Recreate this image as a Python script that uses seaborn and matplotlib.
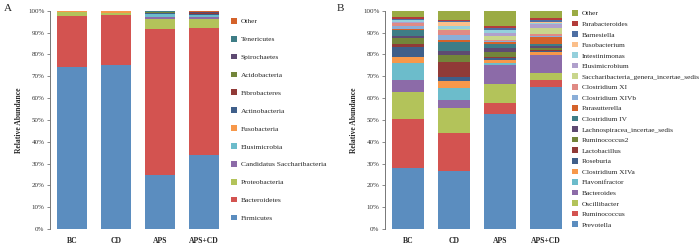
import numpy as np
import matplotlib
matplotlib.use("Agg")
import matplotlib.pyplot as plt
import seaborn as sns

groups = ["BC", "CD", "APS", "APS+CD"]

# Panel A: phylum level (%), bottom to top
phyla = ["Firmicutes", "Bacteroidetes", "Proteobacteria", "Candidatus Saccharibacteria",
         "Elusimicrobia", "Fusobacteria", "Actinobacteria", "Fibrobacteres",
         "Acidobacteria", "Spirochaetes", "Tenericutes", "Other"]
phyla_vals = {
    "Firmicutes":                 [74.1, 75.0, 24.8, 34.0],
    "Bacteroidetes":              [23.5, 23.0, 66.8, 58.0],
    "Proteobacteria":             [1.7, 0.8, 4.7, 4.4],
    "Candidatus Saccharibacteria": [0.1, 0.1, 0.6, 0.7],
    "Elusimicrobia":              [0.1, 0.1, 1.6, 0.8],
    "Fusobacteria":               [0.3, 0.7, 0.1, 0.2],
    "Actinobacteria":             [0.1, 0.1, 0.3, 0.6],
    "Fibrobacteres":              [0.05, 0.05, 0.1, 0.1],
    "Acidobacteria":              [0.05, 0.05, 0.5, 0.2],
    "Spirochaetes":               [0.05, 0.05, 0.1, 0.3],
    "Tenericutes":                [0.1, 0.05, 0.3, 0.2],
    "Other":                      [0.05, 0.0, 0.1, 0.5],
}
phyla_colors = ["#5b8dbf", "#d35350", "#b3c35a", "#8c6ba8", "#6cbccb", "#f7984a",
                "#3f5f8a", "#913a37", "#73853a", "#5e4a72", "#3e7d86", "#d4622a"]

# Panel B: genus level (%), bottom to top
genera = ["Prevotella", "Ruminococcus", "Oscillibacter", "Bacteroides", "Flavonifractor",
          "Clostridium XIVa", "Roseburia", "Lactobacillus", "Ruminococcus2",
          "Lachnospiracea_incertae_sedis", "Clostridium IV", "Parasutterella",
          "Clostridium XIVb", "Clostridium XI", "Saccharibacteria_genera_incertae_sedis",
          "Elusimicrobium", "Intestinimonas", "Fusobacterium", "Barnesiella",
          "Parabacteroides", "Other"]
genera_vals = {
    "Prevotella":                             [27.8, 26.7, 52.5, 64.9],
    "Ruminococcus":                           [22.6, 17.1, 5.4, 3.4],
    "Oscillibacter":                          [12.2, 11.8, 8.5, 3.0],
    "Bacteroides":                            [5.7, 3.5, 8.7, 8.4],
    "Flavonifractor":                         [7.6, 5.6, 0.8, 0.2],
    "Clostridium XIVa":                       [3.0, 3.1, 1.5, 1.3],
    "Roseburia":                              [4.6, 2.0, 0.8, 0.4],
    "Lactobacillus":                          [1.1, 6.8, 0.6, 0.4],
    "Ruminococcus2":                          [2.8, 3.1, 2.4, 1.1],
    "Lachnospiracea_incertae_sedis":          [1.1, 1.8, 1.9, 0.6],
    "Clostridium IV":                         [2.5, 4.0, 1.5, 0.9],
    "Parasutterella":                         [0.6, 1.1, 0.9, 3.5],
    "Clostridium XIVb":                       [1.5, 2.3, 0.4, 0.3],
    "Clostridium XI":                         [1.1, 2.3, 0.8, 1.1],
    "Saccharibacteria_genera_incertae_sedis": [0.3, 0.2, 1.8, 2.4],
    "Elusimicrobium":                         [0.5, 0.2, 1.3, 1.9],
    "Intestinimonas":                         [0.6, 1.5, 1.2, 0.6],
    "Fusobacterium":                          [0.2, 1.9, 0.3, 0.6],
    "Barnesiella":                            [0.4, 0.1, 0.9, 0.9],
    "Parabacteroides":                        [0.8, 0.6, 0.9, 0.6],
    "Other":                                  [3.0, 4.3, 6.9, 3.5],
}
genera_colors = ["#5b8dbf", "#d35350", "#b3c35a", "#8c6ba8", "#6cbccb", "#f7984a",
                 "#3f5f8a", "#913a37", "#73853a", "#5e4a72", "#3e7d86", "#d4622a",
                 "#8aaed8", "#e08a84", "#c9d68c", "#b0a0cc", "#95d0dc", "#fbbf8a",
                 "#4e6fa3", "#b33c3a", "#9bab44"]

sns.set_style("white")
plt.rcParams["font.family"] = ["Liberation Serif", "DejaVu Serif"]

fig = plt.figure(figsize=(7.0, 2.47), dpi=100)
ax_a = fig.add_axes([50 / 700, 1 - 229 / 247, 176 / 700, 218.3 / 247])
ax_b = fig.add_axes([385 / 700, 1 - 229 / 247, 184 / 700, 218.3 / 247])


def stacked(ax, names, vals, colors, leg_x, leg_y, spacing, leg_fs):
    bottom = np.zeros(len(groups))
    for name, col in zip(names, colors):
        v = np.array(vals[name])
        sns.barplot(x=groups, y=v, bottom=bottom, color=col, saturation=1,
                    width=0.68, linewidth=0, errorbar=None, ax=ax, label=name)
        bottom += v
    ax.set_ylim(0, 100)
    ax.set_xlim(-0.5, 3.5)
    ax.set_yticks(range(0, 101, 10))
    ax.set_yticklabels([f"{t}%" for t in range(0, 101, 10)], fontsize=5, color="#333333")
    ax.set_xticks(range(len(groups)))
    ax.set_xticklabels(groups, fontsize=5.5, fontweight="bold")
    ax.tick_params(axis="y", left=True, length=2.5, width=0.6, color="#777777", pad=1.5)
    ax.tick_params(axis="x", bottom=False, pad=2.5)
    for s in ["top", "right", "bottom"]:
        ax.spines[s].set_visible(False)
    ax.spines["left"].set_color("#777777")
    ax.spines["left"].set_linewidth(0.7)
    ax.set_ylabel("Relative Abundance", fontsize=5.5, fontweight="bold", labelpad=4)
    h, l = ax.get_legend_handles_labels()
    ax.legend(h[::-1], l[::-1], loc="upper left", bbox_to_anchor=(leg_x, leg_y),
              bbox_transform=fig.transFigure, frameon=False, fontsize=leg_fs,
              handlelength=0.8, handleheight=0.8, handletextpad=0.5,
              labelspacing=spacing, borderaxespad=0, borderpad=0)


stacked(ax_a, phyla, phyla_vals, phyla_colors, 231 / 700, 1 - 18 / 247, 1.52, 5.4)
stacked(ax_b, genera, genera_vals, genera_colors, 572 / 700, 1 - 10 / 247, 0.57, 5.3)

fig.text(4 / 700, 1 - 11 / 247, "A", fontsize=8)
fig.text(337 / 700, 1 - 11 / 247, "B", fontsize=8)

fig.savefig("out.png", dpi=100)
